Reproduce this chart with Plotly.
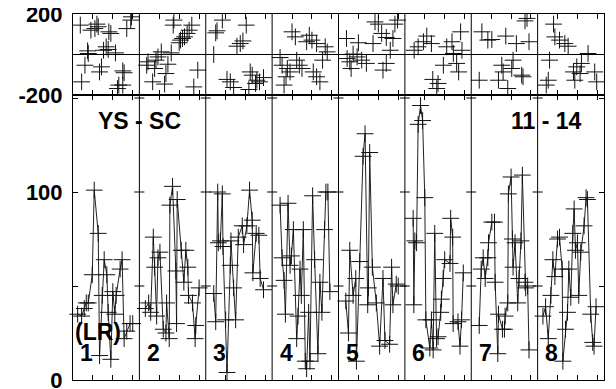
import plotly.graph_objects as go

# ---------------- data ----------------
panel_labels = ["1", "2", "3", "4", "5", "6", "7", "8"]
title_left = "YS - SC"
title_right = "11 - 14"
side_label = "(LR)"

top_ticks = [-200, 200]
bottom_ticks = [0, 50, 100, 150]
bottom_ticktext = ["0", "", "100", ""]

# bottom panel: position within panel (0..1) and value
bot_f = [
    [0.07, 0.13, 0.17, 0.20, 0.23, 0.29, 0.32, 0.38, 0.40, 0.44, 0.47, 0.51, 0.53, 0.57, 0.60, 0.63, 0.65, 0.71, 0.74, 0.77, 0.81, 0.86, 0.90],
    [0.09, 0.14, 0.17, 0.21, 0.23, 0.26, 0.28, 0.31, 0.36, 0.40, 0.41, 0.45, 0.46, 0.50, 0.55, 0.56, 0.57, 0.63, 0.67, 0.70, 0.73, 0.74, 0.80, 0.84, 0.85, 0.90],
    [0.12, 0.15, 0.18, 0.19, 0.22, 0.25, 0.26, 0.30, 0.32, 0.37, 0.38, 0.42, 0.45, 0.49, 0.55, 0.57, 0.62, 0.66, 0.70, 0.71, 0.76, 0.80, 0.82, 0.87],
    [0.12, 0.15, 0.18, 0.20, 0.24, 0.27, 0.29, 0.32, 0.37, 0.39, 0.42, 0.44, 0.47, 0.50, 0.52, 0.55, 0.57, 0.61, 0.64, 0.69, 0.72, 0.75, 0.79, 0.81, 0.84, 0.87],
    [0.11, 0.15, 0.17, 0.22, 0.26, 0.27, 0.32, 0.37, 0.40, 0.44, 0.45, 0.47, 0.51, 0.57, 0.62, 0.67, 0.70, 0.77, 0.80, 0.82, 0.87, 0.90],
    [0.125, 0.135, 0.15, 0.176, 0.20, 0.236, 0.267, 0.30, 0.316, 0.376, 0.40, 0.426, 0.45, 0.477, 0.50, 0.54, 0.55, 0.577, 0.60, 0.68, 0.69, 0.72, 0.727, 0.80, 0.83, 0.854, 0.88],
    [0.12, 0.15, 0.18, 0.21, 0.25, 0.26, 0.31, 0.35, 0.36, 0.40, 0.41, 0.47, 0.50, 0.51, 0.55, 0.56, 0.60, 0.62, 0.63, 0.66, 0.70, 0.72, 0.75, 0.77, 0.81, 0.82, 0.85, 0.87],
    [0.08, 0.12, 0.16, 0.20, 0.23, 0.26, 0.30, 0.33, 0.37, 0.38, 0.42, 0.45, 0.47, 0.50, 0.53, 0.55, 0.57, 0.60, 0.62, 0.65, 0.70, 0.73, 0.75, 0.80, 0.83, 0.85, 0.88],
]
bot_v = [
    [35, 34, 38, 41, 41, 56, 101, 78, 13, 45, 64, 56, 36, 11, 47, 35, 45, 59, 64, 22, 26, 30, 30],
    [38, 41, 36, 76, 60, 34, 65, 68, 27, 25, 41, 22, 93, 103, 58, 30, 96, 69, 52, 69, 60, 45, 41, 22, 29, 49],
    [46, 31, 100, 73, 74, 99, 71, 32, 4, 61, 74, 49, 32, 76, 82, 72, 82, 101, 85, 57, 78, 77, 54, 48],
    [93, 65, 53, 35, 94, 61, 66, 80, 22, 34, 59, 45, 80, 10, 6, 36, 10, 98, 64, 14, 52, 36, 80, 100, 100, 47],
    [42, 25, 69, 45, 54, 10, 63, 119, 131, 40, 49, 121, 60, 41, 18, 54, 21, 19, 60, 40, 51, 50],
    [86, 40, 74, 73, 136, 146, 138, 97, 32, 17, 32, 16, 78, 22, 23, 36, 43, 54, 64, 62, 86, 76, 30, 31, 18, 32, 57],
    [29, 59, 65, 54, 65, 73, 84, 84, 52, 14, 35, 27, 27, 34, 41, 99, 108, 75, 60, 73, 41, 54, 74, 109, 52, 49, 50, 16],
    [34, 39, 22, 45, 64, 55, 75, 76, 59, 10, 27, 36, 59, 44, 78, 91, 69, 73, 45, 68, 82, 97, 96, 35, 20, 18, 39],
]

# top panel: position within panel (0..1) and value
top_f = [
    [0.11, 0.27, 0.33, 0.36, 0.38, 0.54, 0.57, 0.81, 0.87, 0.88, 0.22, 0.23, 0.46, 0.50, 0.53, 0.64, 0.18, 0.43, 0.40, 0.75, 0.77, 0.13, 0.69, 0.75, 0.67],
    [0.52, 0.51, 0.79, 0.75, 0.72, 0.68, 0.65, 0.62, 0.60, 0.33, 0.48, 0.28, 0.25, 0.13, 0.11, 0.23, 0.43, 0.40, 0.20, 0.38, 0.88, 0.82],
    [0.25, 0.17, 0.15, 0.61, 0.52, 0.47, 0.56, 0.12, 0.32, 0.37, 0.42, 0.67, 0.70, 0.77, 0.81, 0.87, 0.65, 0.75],
    [0.30, 0.35, 0.56, 0.52, 0.60, 0.67, 0.80, 0.83, 0.76, 0.12, 0.15, 0.23, 0.37, 0.41, 0.45, 0.21, 0.18, 0.62, 0.67, 0.72, 0.27],
    [0.12, 0.30, 0.52, 0.55, 0.60, 0.65, 0.72, 0.82, 0.85, 0.89, 0.78, 0.22, 0.28, 0.17, 0.19, 0.35, 0.42, 0.72, 0.67, 0.13],
    [0.14, 0.20, 0.28, 0.33, 0.40, 0.63, 0.71, 0.84, 0.86, 0.73, 0.58, 0.78, 0.81, 0.42, 0.50, 0.48],
    [0.16, 0.25, 0.31, 0.52, 0.68, 0.81, 0.84, 0.87, 0.12, 0.41, 0.46, 0.48, 0.55, 0.61, 0.63, 0.76, 0.78],
    [0.24, 0.26, 0.33, 0.41, 0.46, 0.18, 0.76, 0.66, 0.59, 0.54, 0.86, 0.89, 0.56, 0.16, 0.13, 0.64],
]
top_v = [
    [145, 120, 128, 150, 137, 112, 104, 128, 170, 186, 18, 5, 21, 38, 25, 8, -53, -61, -86, -81, -90, -135, -151, -151, -168],
    [170, 145, 145, 120, 104, 87, 79, 71, 58, 13, 8, -12, -28, -36, -53, -69, -48, -94, -135, -146, -77, -160],
    [170, 117, 107, 145, 54, 41, 67, 0, -123, -135, -163, -86, -102, -127, -135, -114, -173, -143],
    [112, 87, 95, 63, 71, 54, 38, 13, -28, -15, -53, -69, -28, -53, -69, -110, -151, -86, -110, -135, -86],
    [79, 58, 54, 161, 150, 104, 84, 79, 150, 170, 21, 2, -12, -36, -69, -28, -44, -44, -77, -20],
    [21, 38, 63, 91, 54, 38, 63, 112, 21, 5, -53, -44, -86, -123, -143, -168],
    [112, 71, 74, 91, 54, 166, 178, 63, -127, -127, -53, -86, -168, -69, -28, -102, -110],
    [150, 87, 71, 54, 41, -28, 5, -44, -61, -86, -86, -135, -127, -127, -151, -94],
]

# ---------------- figure ----------------
FONT = "Liberation Sans, Arial, sans-serif"
n_panels = len(panel_labels)
split = 285 / 366  # bottom panel share of plot height

fig = go.Figure()

marker = dict(symbol="cross-thin-open", size=12, color="#111",
              line=dict(width=1, color="#111"))

for i in range(n_panels):
    xs = sorted(zip(bot_f[i], bot_v[i]))
    fig.add_trace(go.Scatter(
        x=[i + f for f, _ in xs], y=[v for _, v in xs],
        mode="lines+markers", line=dict(color="#222", width=1),
        marker=marker, xaxis="x", yaxis="y", showlegend=False,
        hoverinfo="skip", cliponaxis=False))
    fig.add_trace(go.Scatter(
        x=[i + f for f in top_f[i]], y=top_v[i],
        mode="markers", marker=marker, xaxis="x2", yaxis="y2",
        showlegend=False, hoverinfo="skip"))

xticks = [i + t for i in range(n_panels) for t in (0.3, 0.6, 0.9)]
axis_common = dict(showline=True, linecolor="black", linewidth=1,
                   showgrid=False, zeroline=False, ticks="inside",
                   ticklen=5, tickcolor="black", tickwidth=1,
                   automargin=False)
tickfont = dict(family=FONT, size=22, color="black", weight="bold")

# the page body has an 8px default margin, so the figure is 8px smaller
fig.update_layout(
    width=608, height=381,
    margin=dict(l=65, r=12, t=6, b=9),
    paper_bgcolor="white", plot_bgcolor="white",
    font=dict(family=FONT, size=22, color="black"),
    xaxis=dict(domain=[0, 1], range=[0, n_panels], tickvals=xticks,
               showticklabels=False, mirror="ticks", anchor="y",
               **axis_common),
    yaxis=dict(domain=[0, split], range=[0, 151.6], tickvals=bottom_ticks,
               ticktext=bottom_ticktext, mirror="ticks", anchor="x",
               tickfont=tickfont, ticklabeloverflow="allow",
               ticklabelstandoff=5, **axis_common),
    xaxis2=dict(domain=[0, 1], range=[0, n_panels], tickvals=xticks,
                showticklabels=False, mirror="ticks", anchor="y2",
                **axis_common),
    yaxis2=dict(domain=[split, 1], range=[-200, 200], tickvals=top_ticks,
                ticktext=[str(t) for t in top_ticks], mirror="ticks",
                anchor="x2", tickfont=tickfont, ticklabeloverflow="allow",
                ticklabelstandoff=5, **axis_common),
)

shapes = []
# panel dividers
for k in range(1, n_panels):
    shapes.append(dict(type="line", xref="x", yref="paper", x0=k, x1=k,
                       y0=0, y1=1, line=dict(color="black", width=1)))
    for t in (50, 100, 150):
        shapes.append(dict(type="line", xref="x", yref="y", x0=k - 0.075,
                           x1=k + 0.075, y0=t, y1=t,
                           line=dict(color="black", width=1)))
# zero line in top panel
shapes.append(dict(type="line", xref="x2", yref="y2", x0=0, x1=n_panels,
                   y0=0, y1=0, line=dict(color="black", width=1)))
fig.update_layout(shapes=shapes)

bold = dict(family=FONT, size=23, color="black", weight="bold")
ann = [
    dict(x=1.0, y=138, text=title_left, xref="x", yref="y", showarrow=False,
         font=bold, xanchor="center", yanchor="middle"),
    dict(x=7.14, y=138, text=title_right, xref="x", yref="y", showarrow=False,
         font=bold, xanchor="center", yanchor="middle"),
    dict(x=0.377, y=25.5, text=side_label, xref="x", yref="y", showarrow=False,
         font=bold, xanchor="center", yanchor="middle"),
]
for i, lab in enumerate(panel_labels):
    ann.append(dict(x=i + 0.21, y=14.4, text=lab, xref="x", yref="y",
                    showarrow=False, font=bold, xanchor="center",
                    yanchor="middle"))
fig.update_layout(annotations=ann)

fig.write_html("out.html")
